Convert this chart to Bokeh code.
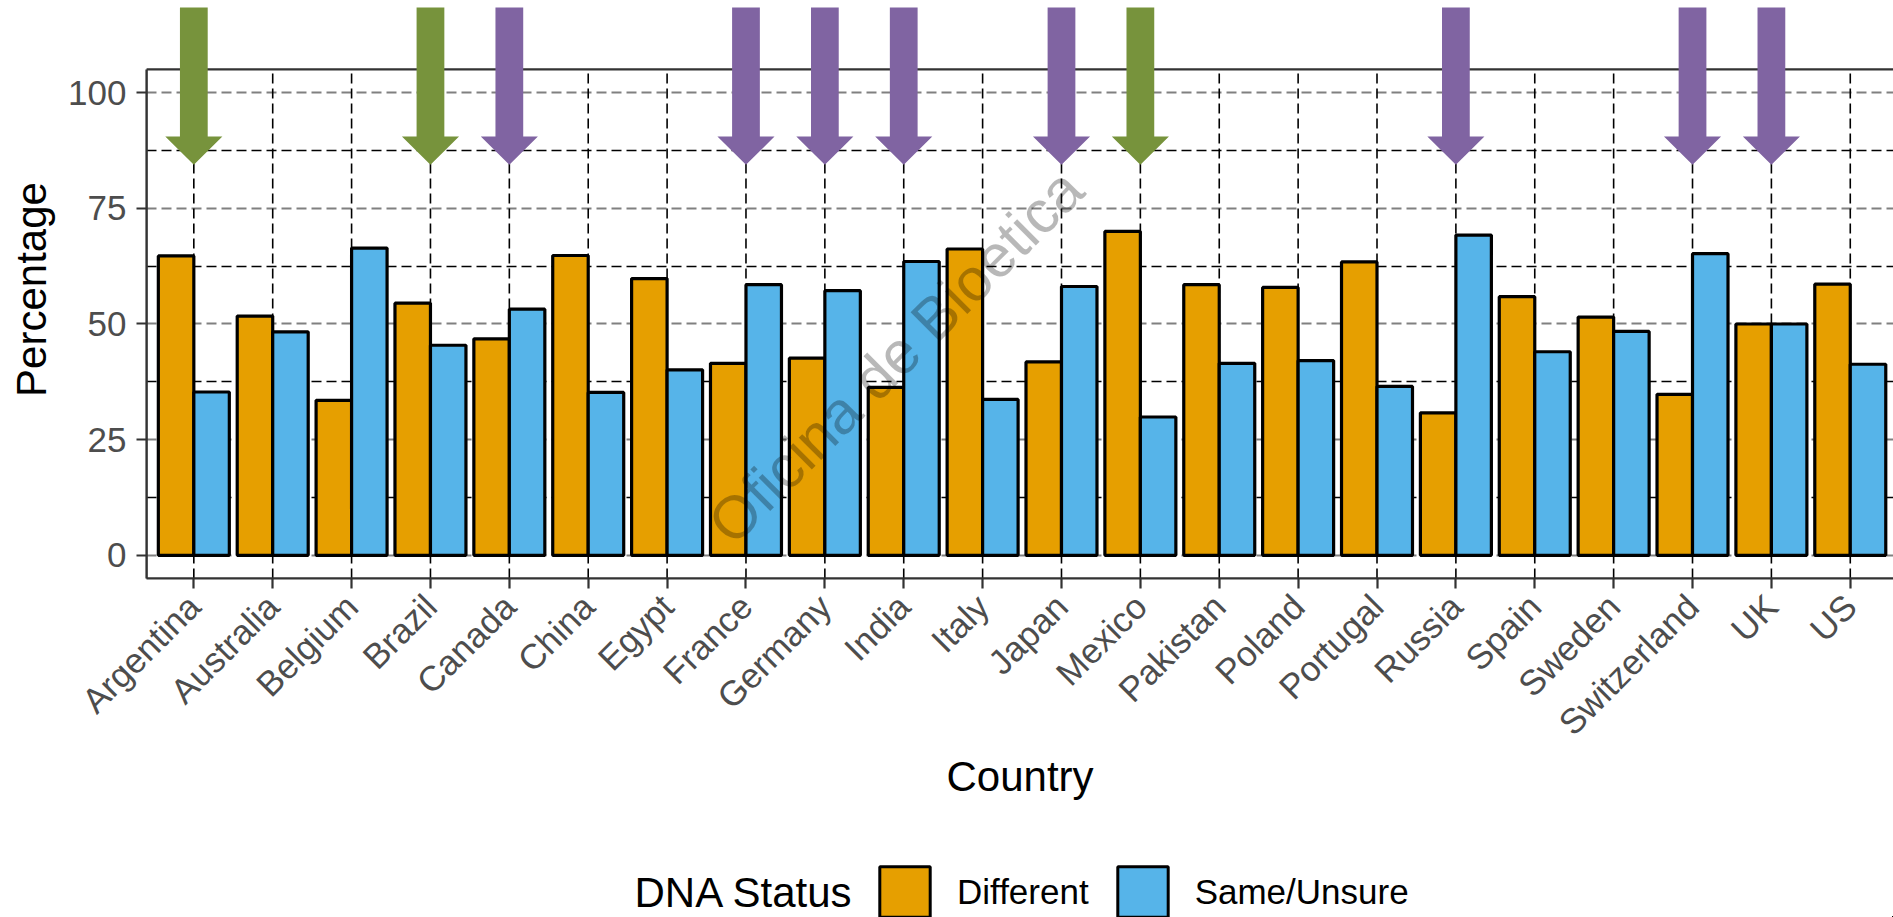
from math import pi
from bokeh.plotting import figure
from bokeh.layouts import column
from bokeh.models import (ColumnDataSource, Range1d, FixedTicker, Legend,
                          LegendItem, Label)
from bokeh.transform import dodge
from bokeh.embed import file_html
from bokeh.resources import INLINE

# ---------------- data ----------------
countries = ["Argentina", "Australia", "Belgium", "Brazil", "Canada", "China",
             "Egypt", "France", "Germany", "India", "Italy", "Japan", "Mexico",
             "Pakistan", "Poland", "Portugal", "Russia", "Spain", "Sweden",
             "Switzerland", "UK", "US"]
different = [64.7, 51.7, 33.5, 54.5, 46.8, 64.8, 59.8, 41.5, 42.6, 36.3, 66.2,
             41.8, 70.0, 58.5, 57.9, 63.4, 30.8, 55.9, 51.5, 34.8, 50.0, 58.6]
same_unsure = [35.3, 48.3, 66.4, 45.4, 53.2, 35.2, 40.1, 58.5, 57.2, 63.5, 33.7,
               58.1, 29.9, 41.5, 42.1, 36.5, 69.2, 44.0, 48.4, 65.2, 50.0, 41.3]
y_ticks = [0, 25, 50, 75, 100]
y_minor_ticks = [12.5, 37.5, 62.5, 87.5]
status_labels = ["Different", "Same/Unsure"]
legend_title = "DNA Status"
arrows_green = ["Argentina", "Brazil", "Mexico"]
arrows_purple = ["Canada", "France", "Germany", "India", "Japan", "Russia",
                 "Switzerland", "UK"]
watermark = "Oficina de Bioetica"

# ---------------- styles ----------------
ORANGE = "#E69F00"
BLUE = "#56B4E9"
GREEN = "#77933C"
PURPLE = "#8064A2"
FONT = "Liberation Sans"
DARK = "#333333"
W = 1893
LEFT = 146
H_MAIN = 820
H_LEG = 917 - H_MAIN

xs = list(range(1, len(countries) + 1))
src = ColumnDataSource(dict(x=xs, country=countries, different=different,
                            same=same_unsure))

p = figure(width=W, height=H_MAIN, x_range=Range1d(0.4, 22.548),
           y_range=Range1d(-5, 119.9), output_backend="svg",
           toolbar_location=None, min_border_left=LEFT, min_border_right=0,
           min_border_top=0, min_border_bottom=H_MAIN - 578)
p.outline_line_color = None
p.background_fill_color = "white"
p.border_fill_color = "white"

# horizontal grid lines
p.xgrid.visible = False
p.ygrid.ticker = FixedTicker(ticks=y_ticks, minor_ticks=y_minor_ticks)
p.ygrid.grid_line_color = "#808080"
p.ygrid.grid_line_width = 2
p.ygrid.grid_line_dash = "10 5"
p.ygrid.minor_grid_line_color = "black"
p.ygrid.minor_grid_line_width = 1.6
p.ygrid.minor_grid_line_dash = "10 5"

# vertical grid lines (limited to the panel)
p.segment(x0="x", y0=-5, x1="x", y1=105, source=src, line_color="black",
          line_width=1.6, line_dash="10 5")

# bars
r_diff = p.vbar(x=dodge("x", -0.225, range=p.x_range), top="different",
                width=0.45, source=src, fill_color=ORANGE, line_color="black",
                line_width=3.2)
r_same = p.vbar(x=dodge("x", 0.225, range=p.x_range), top="same",
                width=0.45, source=src, fill_color=BLUE, line_color="black",
                line_width=3.2)

# panel border
p.quad(left=0.4, right=22.6, bottom=-5, top=105, fill_color=None,
       line_color=DARK, line_width=2.2)

# arrows
SHAFT_TOP, HEAD_BASE, TIP = 118.4, 90.5, 84.4
SHAFT_HALF, HEAD_HALF = 0.176, 0.362


def arrow_shapes(names):
    axs, ays = [], []
    for n in names:
        cx = xs[countries.index(n)]
        axs.append([cx - SHAFT_HALF, cx + SHAFT_HALF, cx + SHAFT_HALF,
                    cx + HEAD_HALF, cx, cx - HEAD_HALF, cx - SHAFT_HALF])
        ays.append([SHAFT_TOP, SHAFT_TOP, HEAD_BASE, HEAD_BASE, TIP,
                    HEAD_BASE, HEAD_BASE])
    return axs, ays


gx, gy = arrow_shapes(arrows_green)
p.patches(gx, gy, fill_color=GREEN, line_color=None)
px_, py_ = arrow_shapes(arrows_purple)
p.patches(px_, py_, fill_color=PURPLE, line_color=None)

# watermark
p.add_layout(Label(x=9.9, y=43, text=watermark, angle=pi / 4,
                   text_align="center", text_baseline="middle",
                   text_font=FONT, text_font_size="60px", text_color="black",
                   text_alpha=0.28))

# axes
for ax in (p.xaxis[0], p.yaxis[0]):
    ax.axis_line_color = DARK
    ax.axis_line_width = 2.2
    ax.major_tick_line_color = DARK
    ax.major_tick_line_width = 2.2
    ax.major_tick_out = 10
    ax.major_tick_in = 0
    ax.minor_tick_line_color = None
    ax.major_label_text_color = "#4D4D4D"
    ax.major_label_text_font = FONT
    ax.major_label_text_font_size = "35px"
    ax.axis_label_text_font = FONT
    ax.axis_label_text_font_size = "42px"
    ax.axis_label_text_font_style = "normal"
    ax.axis_label_text_color = "black"

p.xaxis.ticker = FixedTicker(ticks=xs)
p.xaxis.major_label_overrides = {x: c for x, c in zip(xs, countries)}
p.xaxis.major_label_orientation = pi / 4
p.xaxis.major_label_standoff = 12
p.xaxis.axis_label = "Country"
p.xaxis.axis_label_standoff = -6

p.yaxis.ticker = FixedTicker(ticks=y_ticks)
p.yaxis.bounds = (-5, 105)
p.yaxis.major_label_standoff = 10
p.yaxis.axis_label = "Percentage"
p.yaxis.axis_label_standoff = 10

# ---------------- legend strip ----------------
# its frame lines up with the main plot's frame (LEFT .. W), so the x range
# is expressed in page pixels
lg = figure(width=W, height=H_LEG, x_range=Range1d(LEFT, W),
            y_range=Range1d(0, H_LEG), output_backend="svg",
            toolbar_location=None, min_border=0, min_border_left=LEFT,
            x_axis_location=None, y_axis_location=None)
lg.grid.visible = False
lg.outline_line_color = None
lg.background_fill_color = "white"
lg.border_fill_color = "white"

# key renderers: one element each, placed outside the visible strip
OFF = [2 * W]
k_diff = lg.vbar(x=OFF, top=[1], width=1, fill_color=ORANGE,
                 line_color="black", line_width=3)
k_same = lg.vbar(x=OFF, top=[1], width=1, fill_color=BLUE,
                 line_color="black", line_width=3)
legend = Legend(items=[LegendItem(label=status_labels[0], renderers=[k_diff]),
                       LegendItem(label=status_labels[1], renderers=[k_same])],
                orientation="horizontal", location=(873 - LEFT, -6),
                padding=0, margin=0, spacing=22, label_standoff=21,
                glyph_width=63, glyph_height=63, label_text_font=FONT,
                label_text_font_size="35px", label_text_color="black",
                border_line_color=None, background_fill_alpha=0)
lg.add_layout(legend, "center")
lg.add_layout(Label(x=634, y=25.5, text=legend_title, text_align="left",
                    text_baseline="middle", text_font=FONT,
                    text_font_size="42px", text_color="black"))

open("out.html", "w").write(file_html(column(p, lg, spacing=0), INLINE))
